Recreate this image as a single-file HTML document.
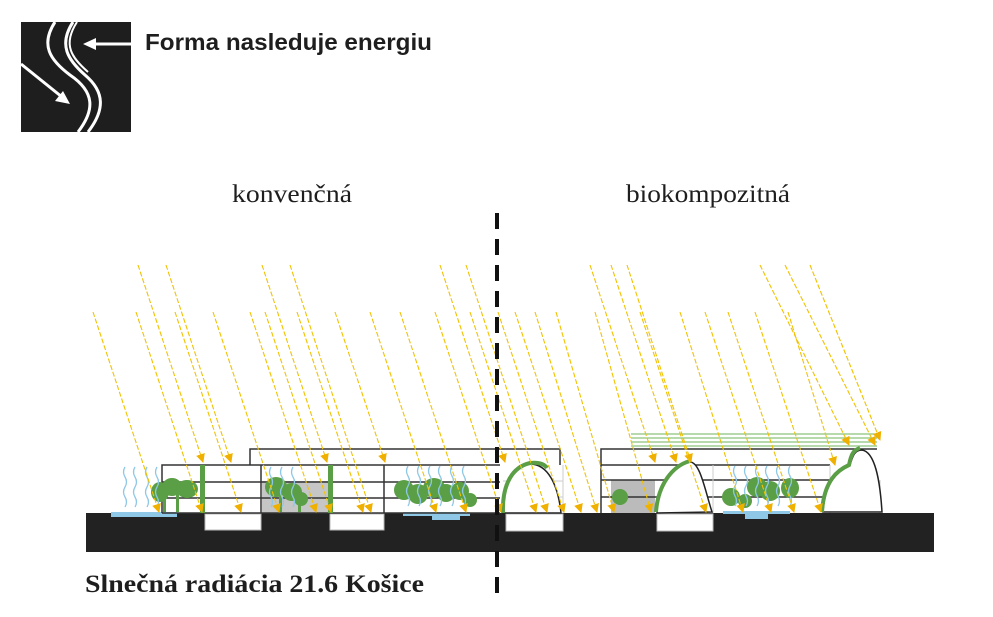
<!DOCTYPE html>
<html><head><meta charset="utf-8"><style>
body{margin:0;background:#fff;}
svg{display:block}
</style></head><body>
<svg width="993" height="617" viewBox="0 0 993 617" xmlns="http://www.w3.org/2000/svg">
<rect width="993" height="617" fill="#fff"/>
<!-- logo -->
<rect x="21" y="22" width="110" height="110" fill="#1e1e1e"/>
<path d="M55,22 C40,45 50,60 70,75 C95,92 95,110 78,132" stroke="#fff" stroke-width="3" fill="none"/>
<path d="M73,22 C58,45 68,60 85,75 C105,92 105,110 88,132" stroke="#fff" stroke-width="3" fill="none"/>
<path d="M77,22 C62,45 72,58 88,72" stroke="#fff" stroke-width="2" fill="none"/>
<line x1="131" y1="44" x2="92" y2="44" stroke="#fff" stroke-width="3"/>
<polygon points="83,44 96,38 96,50" fill="#fff"/>
<line x1="21" y1="64" x2="62" y2="97" stroke="#fff" stroke-width="3"/>
<polygon points="70,104 55,101 63,91" fill="#fff"/>
<text x="145" y="50" font-family="Liberation Sans, sans-serif" font-weight="bold" font-size="23" textLength="287" lengthAdjust="spacingAndGlyphs" fill="#1e1e1e">Forma nasleduje energiu</text>
<text x="232" y="202" font-family="Liberation Serif, serif" font-size="25" textLength="120" lengthAdjust="spacingAndGlyphs" fill="#1e1e1e">konvenčná</text>
<text x="626" y="202" font-family="Liberation Serif, serif" font-size="25" textLength="164" lengthAdjust="spacingAndGlyphs" fill="#1e1e1e">biokompozitná</text>
<text x="85" y="592" font-family="Liberation Serif, serif" font-weight="bold" font-size="25" textLength="339" lengthAdjust="spacingAndGlyphs" fill="#1e1e1e">Slnečná radiácia 21.6 Košice</text>

<!-- ground -->
<rect x="86" y="513" width="848" height="39" fill="#222"/>
<g fill="#fff" stroke="#bbb" stroke-width="1">
<rect x="205" y="514" width="56" height="16"/>
<rect x="330" y="514" width="54" height="16"/>
<rect x="506" y="514" width="57" height="17"/>
<rect x="657" y="514" width="56" height="17"/>
</g>
<rect x="111" y="512" width="66" height="5" fill="#8ec8e6"/>
<path d="M403,512 H470 V516 H460 V520 H432 V516 H403Z" fill="#8ec8e6"/>
<path d="M723,511 H790 V514 H768 V519 H745 V514 H723Z" fill="#8ec8e6"/>
<rect x="262" y="481" width="68" height="32" fill="#c6c6c6"/>
<rect x="611" y="480" width="44" height="33" fill="#bbb"/>

<g stroke="#333" stroke-width="1.5" fill="none">
<path d="M162,513 V465 H500"/>
<path d="M250,465 V449 H560 V465"/>
<line x1="162" y1="482" x2="500" y2="482"/>
<line x1="162" y1="498" x2="500" y2="498"/>
<line x1="162" y1="513" x2="500" y2="513"/>
<line x1="261" y1="465" x2="261" y2="513"/>
<line x1="384" y1="465" x2="384" y2="513"/>
<path d="M601,513 V449 H877"/>
<line x1="601" y1="465" x2="830" y2="465"/>
<line x1="601" y1="480" x2="830" y2="480"/>
<line x1="601" y1="497" x2="830" y2="497"/>
</g>
<g stroke="#ccc" stroke-width="1" fill="none">
<line x1="503" y1="481" x2="563" y2="481"/><line x1="503" y1="497" x2="563" y2="497"/>
<line x1="563" y1="465" x2="563" y2="513"/>
<line x1="713" y1="465" x2="713" y2="513"/><line x1="830" y1="465" x2="830" y2="513"/>
<line x1="880" y1="480" x2="880" y2="513"/>
</g>
<rect x="200" y="465" width="5" height="48" fill="#5a9e45"/>
<rect x="328" y="465" width="5" height="48" fill="#5a9e45"/>
<g stroke="#8cc47a" stroke-width="1.2">
<line x1="631" y1="434" x2="877" y2="434"/><line x1="631" y1="438" x2="877" y2="438"/>
<line x1="631" y1="442" x2="877" y2="442"/><line x1="631" y1="446" x2="877" y2="446"/>
</g>
<path d="M504,513 C502,480 515,465 530,464 C548,464 558,485 561,513Z" fill="#fff" stroke="#222" stroke-width="1.5"/>
<path d="M503,513 C502,485 512,467 530,463 C540,462 545,465 547,468" stroke="#5a9e45" stroke-width="4" fill="none"/>
<path d="M657,513 C658,485 675,465 690,462 C700,462 705,490 712,512Z" fill="#fff" stroke="#222" stroke-width="1.5"/>
<path d="M656,512 C658,485 672,466 690,461" stroke="#5a9e45" stroke-width="4" fill="none"/>
<path d="M823,512 C825,480 840,470 850,465 C853,455 855,450 862,450 C875,452 880,480 882,512Z" fill="#fff" stroke="#222" stroke-width="1.5"/>
<path d="M822,512 C824,480 838,470 849,465 C851,455 853,450 860,448" stroke="#5a9e45" stroke-width="4" fill="none"/>
<!-- trees -->
<g fill="#5a9e45">
<ellipse cx="160" cy="492" rx="9" ry="10"/><ellipse cx="172" cy="487" rx="10" ry="9"/><ellipse cx="187" cy="489" rx="11" ry="9"/><rect x="176" y="490" width="3" height="22"/><rect x="163" y="495" width="3" height="17"/>
<ellipse cx="276" cy="487" rx="11" ry="10"/><ellipse cx="292" cy="492" rx="10" ry="9"/><ellipse cx="301" cy="499" rx="7" ry="7"/><rect x="279" y="492" width="3" height="20"/><rect x="298" y="498" width="3" height="14"/>
<ellipse cx="404" cy="490" rx="10" ry="10"/><ellipse cx="418" cy="494" rx="10" ry="10"/><ellipse cx="434" cy="488" rx="11" ry="10"/><ellipse cx="446" cy="493" rx="9" ry="9"/><ellipse cx="460" cy="491" rx="9" ry="9"/><ellipse cx="470" cy="500" rx="7" ry="7"/>
<ellipse cx="620" cy="497" rx="8" ry="8"/>
<ellipse cx="731" cy="497" rx="9" ry="9"/><ellipse cx="745" cy="501" rx="7" ry="7"/><ellipse cx="757" cy="487" rx="10" ry="10"/><ellipse cx="770" cy="491" rx="10" ry="10"/><ellipse cx="790" cy="488" rx="9" ry="10"/>
</g>
<g stroke="#8ec8e6" stroke-width="1.3" fill="none">
<path d="M125,467 q-3,5 0,10 q3,5 0,10 q-3,5 0,10 q3,5 0,10"/>
<path d="M135,467 q-3,5 0,10 q3,5 0,10 q-3,5 0,10 q3,5 0,10"/>
<path d="M147,467 q-3,5 0,10 q3,5 0,10 q-3,5 0,10 q3,5 0,10"/>
<path d="M157,467 q-3,5 0,10 q3,5 0,10 q-3,5 0,10 q3,5 0,10"/>
<path d="M271,467 q-3,5 0,10 q3,5 0,10 q-3,5 0,10 q3,5 0,10"/>
<path d="M282,467 q-3,5 0,10 q3,5 0,10 q-3,5 0,10 q3,5 0,10"/>
<path d="M293,467 q-3,5 0,10 q3,5 0,10 q-3,5 0,10 q3,5 0,10"/>
<path d="M408,466 q-3,5 0,10 q3,5 0,10 q-3,5 0,10 q3,5 0,10"/>
<path d="M419,466 q-3,5 0,10 q3,5 0,10 q-3,5 0,10 q3,5 0,10"/>
<path d="M430,466 q-3,5 0,10 q3,5 0,10 q-3,5 0,10 q3,5 0,10"/>
<path d="M440,466 q-3,5 0,10 q3,5 0,10 q-3,5 0,10 q3,5 0,10"/>
<path d="M452,466 q-3,5 0,10 q3,5 0,10 q-3,5 0,10 q3,5 0,10"/>
<path d="M464,466 q-3,5 0,10 q3,5 0,10 q-3,5 0,10 q3,5 0,10"/>
<path d="M735,466 q-3,5 0,10 q3,5 0,10 q-3,5 0,10 q3,5 0,10"/>
<path d="M746,466 q-3,5 0,10 q3,5 0,10 q-3,5 0,10 q3,5 0,10"/>
<path d="M757,466 q-3,5 0,10 q3,5 0,10 q-3,5 0,10 q3,5 0,10"/>
<path d="M767,466 q-3,5 0,10 q3,5 0,10 q-3,5 0,10 q3,5 0,10"/>
<path d="M778,466 q-3,5 0,10 q3,5 0,10 q-3,5 0,10 q3,5 0,10"/>
<path d="M790,466 q-3,5 0,10 q3,5 0,10 q-3,5 0,10 q3,5 0,10"/>
</g>
<defs><marker id="a" markerUnits="userSpaceOnUse" markerWidth="9" markerHeight="9" refX="8" refY="4.5" orient="auto"><path d="M0,0 L9,4.5 L0,9Z" fill="#f0b000"/></marker></defs>
<g stroke="#f2c200" stroke-width="1.1" stroke-dasharray="5,2" marker-end="url(#a)">
<line x1="138" y1="265" x2="203" y2="462"/>
<line x1="166" y1="265" x2="231" y2="462"/>
<line x1="262" y1="265" x2="327" y2="462"/>
<line x1="290" y1="265" x2="371" y2="512"/>
<line x1="440" y1="265" x2="505" y2="462"/>
<line x1="466" y1="265" x2="547" y2="512"/>
<line x1="93" y1="312" x2="159" y2="512"/>
<line x1="136" y1="312" x2="202" y2="512"/>
<line x1="175" y1="312" x2="241" y2="512"/>
<line x1="213" y1="312" x2="279" y2="512"/>
<line x1="250" y1="312" x2="316" y2="512"/>
<line x1="265" y1="312" x2="331" y2="512"/>
<line x1="297" y1="312" x2="363" y2="512"/>
<line x1="335" y1="312" x2="385" y2="462"/>
<line x1="370" y1="312" x2="436" y2="512"/>
<line x1="400" y1="312" x2="466" y2="512"/>
<line x1="435" y1="312" x2="501" y2="512"/>
<line x1="470" y1="312" x2="536" y2="512"/>
<line x1="498" y1="312" x2="564" y2="512"/>
<line x1="515" y1="312" x2="581" y2="512"/>
<line x1="535" y1="312" x2="597" y2="512"/>
<line x1="556" y1="312" x2="614" y2="512"/>
<line x1="590" y1="265" x2="655" y2="462"/>
<line x1="611" y1="265" x2="676" y2="462"/>
<line x1="627" y1="265" x2="691" y2="462"/>
<line x1="760" y1="265" x2="849" y2="445"/>
<line x1="785" y1="265" x2="875" y2="445"/>
<line x1="810" y1="265" x2="880" y2="440"/>
<line x1="595" y1="312" x2="651" y2="512"/>
<line x1="640" y1="312" x2="706" y2="512"/>
<line x1="680" y1="312" x2="743" y2="512"/>
<line x1="705" y1="312" x2="771" y2="512"/>
<line x1="728" y1="312" x2="794" y2="512"/>
<line x1="755" y1="312" x2="821" y2="512"/>
<line x1="788" y1="312" x2="835" y2="465"/>
</g>
<line x1="497" y1="213" x2="497" y2="597" stroke="#111" stroke-width="4" stroke-dasharray="16,10"/>
</svg>
</body></html>
